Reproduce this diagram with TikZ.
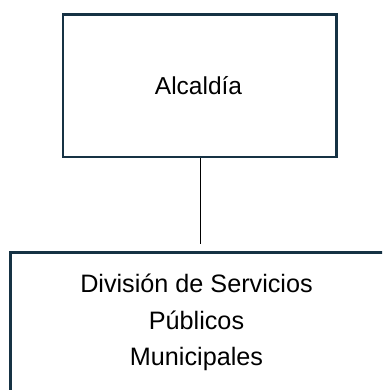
\documentclass[tikz,border=0pt]{standalone}
\usepackage{fontspec}
\setmainfont{Liberation Sans}
\definecolor{boxline}{RGB}{22,50,68}
\begin{document}
\begin{tikzpicture}[x=1pt,y=-1pt,
  orgbox/.style={draw=boxline,line width=2.2pt,fill=none,inner sep=0pt},
  orgtext/.style={font=\fontsize{25.2}{36.5}\selectfont,align=center,text=black,inner sep=0pt},
  link/.style={draw=black,line width=0.9pt}]
\useasboundingbox (0,0) rectangle (382,390);
\clip (0,0) rectangle (382,390);
\node[orgbox,minimum width=273.5pt,minimum height=142.5pt] (top) at (199.75,85.75) {};
\node[orgtext,font=\fontsize{24.5}{36.5}\selectfont] (toptext) at (198.5,85.5) {Alcaldía};
\node[orgbox,minimum width=373.5pt,minimum height=150pt] (bottom) at (197.25,327.5) {};
\node[orgtext] (bottomtext) at (196.5,322.5) {División de Servicios\\Públicos\\Municipales};
\coordinate (linkend) at (200,244);
\draw[link] (top.south -| linkend) -- (linkend);
\end{tikzpicture}
\end{document}
